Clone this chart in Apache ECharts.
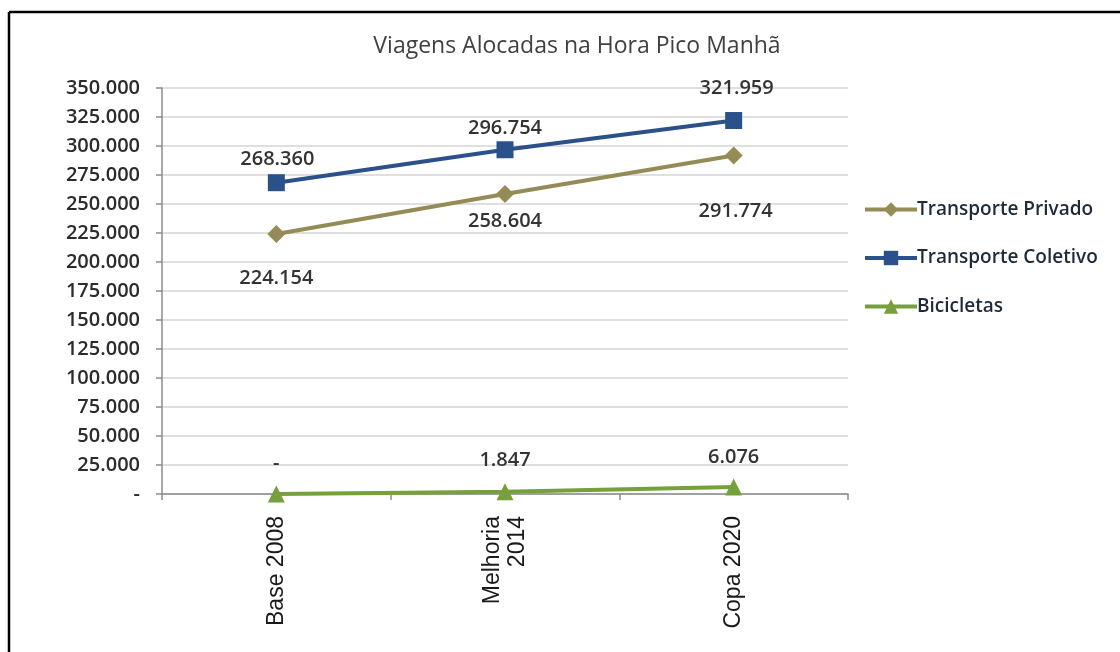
<!DOCTYPE html>
<html>
<head>
<meta charset="utf-8">
<script src="https://cdn.jsdelivr.net/npm/echarts@6/dist/echarts.min.js"></script>
<style>
html,body{margin:0;padding:0;background:#fff;}
#chart{width:1120px;height:652px;}
</style>
</head>
<body>
<div id="chart"></div>
<script>
const title = 'Viagens Alocadas na Hora Pico Manhã';
const categories = ['Base 2008', 'Melhoria\n2014', 'Copa 2020'];
const seriesNames = ['Transporte Privado', 'Transporte Coletivo', 'Bicicletas'];
const privado = [224154, 258604, 291774];
const coletivo = [268360, 296754, 321959];
const bicicletas = [0, 1847, 6076];

function fmt(v) {
  if (v === 0) return '-';
  return String(v).replace(/\B(?=(\d{3})+(?!\d))/g, '.');
}

const labelFont = { fontFamily: 'Open Sans', fontSize: 20, fontWeight: 600, color: '#333333' };

function mkData(vals, offsets) {
  return vals.map((v, i) => ({
    value: v,
    label: { offset: offsets[i] }
  }));
}

const chart = echarts.init(document.getElementById('chart'), null, { renderer: 'canvas' });
const option = {
  animation: false,
  backgroundColor: '#fff',
  title: {
    text: title,
    left: 572, top: 30, textAlign: 'center',
    textStyle: { fontFamily: 'Open Sans', fontSize: 23, fontWeight: 'normal', color: '#404040' }
  },
  grid: { left: 162, right: 272, top: 88, bottom: 158, containLabel: false },
  legend: {
    orient: 'vertical', left: 858, top: 195,
    itemWidth: 52, itemHeight: 18, itemGap: 29.5,
    lineStyle: { width: 4 },
    textStyle: { fontFamily: 'Open Sans', fontSize: 19, fontWeight: 600, color: '#1e2a3a', padding: [0,0,0,-5] },
    data: seriesNames
  },
  xAxis: {
    type: 'category', data: categories, boundaryGap: true,
    axisLine: { lineStyle: { color: '#8c8c8c', width: 1.5 } },
    axisTick: { show: true, length: 6, lineStyle: { color: '#8c8c8c', width: 1.5 } },
    axisLabel: { rotate: 90, margin: 22, fontFamily: 'Liberation Sans', fontSize: 23, color: '#1a1a1a', lineHeight: 25, align: 'right', verticalAlign: 'middle' },
    splitLine: { show: false }
  },
  yAxis: {
    type: 'value', min: 0, max: 350000, interval: 25000,
    axisLine: { show: true, lineStyle: { color: '#8c8c8c', width: 1.5 } },
    axisTick: { show: true, length: 6, inside: false, lineStyle: { color: '#8c8c8c', width: 1.5 } },
    axisLabel: { margin: 22, formatter: fmt, fontFamily: 'Open Sans', fontSize: 20, fontWeight: 600, color: '#2b2b2b' },
    splitLine: { lineStyle: { color: '#d4d4d4', width: 1.5 } }
  },
  series: [
    {
      name: seriesNames[0], type: 'line', data: mkData(privado, [[0, 44], [0, 27], [2, 56]]),
      symbol: 'diamond', symbolSize: 18,
      lineStyle: { width: 4, color: '#958b56' }, itemStyle: { color: '#958b56' },
      label: { show: true, position: 'inside', formatter: p => fmt(p.value), ...labelFont }
    },
    {
      name: seriesNames[1], type: 'line', data: mkData(coletivo, [[1, -23], [0, -21], [3, -32]]),
      symbol: 'rect', symbolSize: 17,
      lineStyle: { width: 4, color: '#2a5189' }, itemStyle: { color: '#2a5189' },
      label: { show: true, position: 'inside', formatter: p => fmt(p.value), ...labelFont }
    },
    {
      name: seriesNames[2], type: 'line', data: mkData(bicicletas, [[0, -31], [0, -32], [0, -30]]),
      symbol: 'triangle', symbolSize: 17,
      lineStyle: { width: 4, color: '#76a03c' }, itemStyle: { color: '#76a03c' },
      label: { show: true, position: 'inside', formatter: p => fmt(p.value), ...labelFont }
    }
  ],
  graphic: [
    { type: 'line', shape: { x1: 9, y1: 12, x2: 1120, y2: 12 }, style: { stroke: '#000', lineWidth: 2.5 } },
    { type: 'line', shape: { x1: 9, y1: 12, x2: 9, y2: 652 }, style: { stroke: '#000', lineWidth: 2.5 } }
  ]
};
chart.setOption(option);
</script>
</body>
</html>
